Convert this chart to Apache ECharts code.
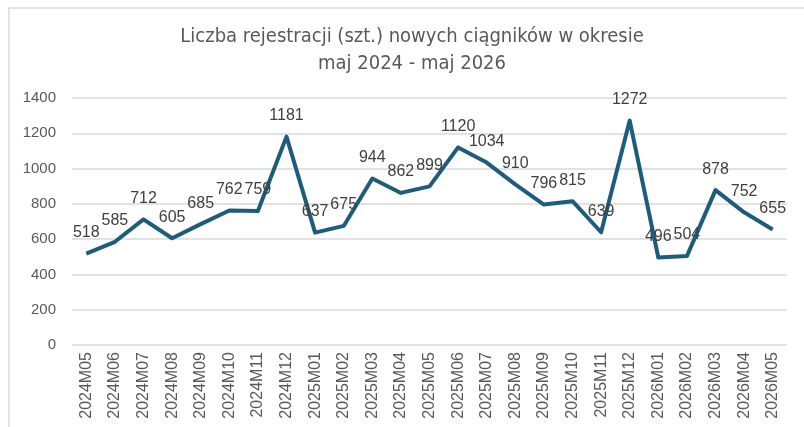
<!DOCTYPE html>
<html>
<head>
<meta charset="utf-8">
<script src="https://cdn.jsdelivr.net/npm/echarts@6/dist/echarts.min.js"></script>
<style>
html,body{margin:0;padding:0;background:#fff;}
#chart{width:804px;height:427px;}
</style>
</head>
<body>
<div id="chart"></div>
<script>
// miesiące
const months = ['2024M05','2024M06','2024M07','2024M08','2024M09','2024M10','2024M11','2024M12',
    '2025M01','2025M02','2025M03','2025M04','2025M05','2025M06','2025M07','2025M08','2025M09',
    '2025M10','2025M11','2025M12','2026M01','2026M02','2026M03','2026M04','2026M05'];
// liczba rejestracji
const registrations = [518,585,712,605,685,762,759,1181,637,675,944,862,899,1120,1034,910,796,815,639,1272,496,504,878,752,655];
const titleLines = ['Liczba rejestracji (szt.) nowych ciągników w okresie', 'maj 2024 - maj 2026'];

const chart = echarts.init(document.getElementById('chart'));
chart.setOption({
    animation: false,
    backgroundColor: '#fff',
    graphic: [{
        type: 'rect',
        shape: {x: 9, y: 8, width: 820, height: 440},
        style: {fill: 'none', stroke: '#d9d9d9', lineWidth: 1.5},
        silent: true
    }],
    title: {
        text: titleLines.join('\n'),
        left: 407,
        top: 18,
        textAlign: 'center',
        textStyle: {
            fontFamily: 'Liberation Sans Narrow, DejaVu Sans Condensed, sans-serif',
            fontWeight: 'normal',
            fontSize: 20,
            color: '#595959',
            lineHeight: 27
        }
    },
    grid: {
        left: 72,
        right: 17,
        top: 98,
        bottom: 82
    },
    xAxis: {
        type: 'category',
        data: months,
        boundaryGap: true,
        axisLine: {show: false},
        axisTick: {show: false},
        axisLabel: {
            rotate: 90,
            interval: 0,
            margin: 7,
            fontFamily: 'Liberation Sans, Arial, sans-serif',
            fontSize: 16,
            color: '#595959'
        }
    },
    yAxis: {
        type: 'value',
        min: 0,
        max: 1400,
        interval: 200,
        axisLine: {show: false},
        axisTick: {show: false},
        splitLine: {lineStyle: {color: '#d9d9d9', width: 1.5}},
        axisLabel: {
            margin: 16,
            formatter: v => String(v),
            fontFamily: 'Liberation Sans, Arial, sans-serif',
            fontSize: 15,
            color: '#595959'
        }
    },
    series: [{
        type: 'line',
        data: registrations,
        symbol: 'circle',
        symbolSize: 0,
        showAllSymbol: true,
        itemStyle: {color: '#1d5c7b'},
        lineStyle: {color: '#1d5c7b', width: 4, join: 'round'},
        labelLayout: {hideOverlap: false},
        label: {
            show: true,
            position: 'top',
            distance: 13,
            fontFamily: 'Liberation Sans, Arial, sans-serif',
            fontSize: 16,
            color: '#404040'
        }
    }]
});
</script>
</body>
</html>
